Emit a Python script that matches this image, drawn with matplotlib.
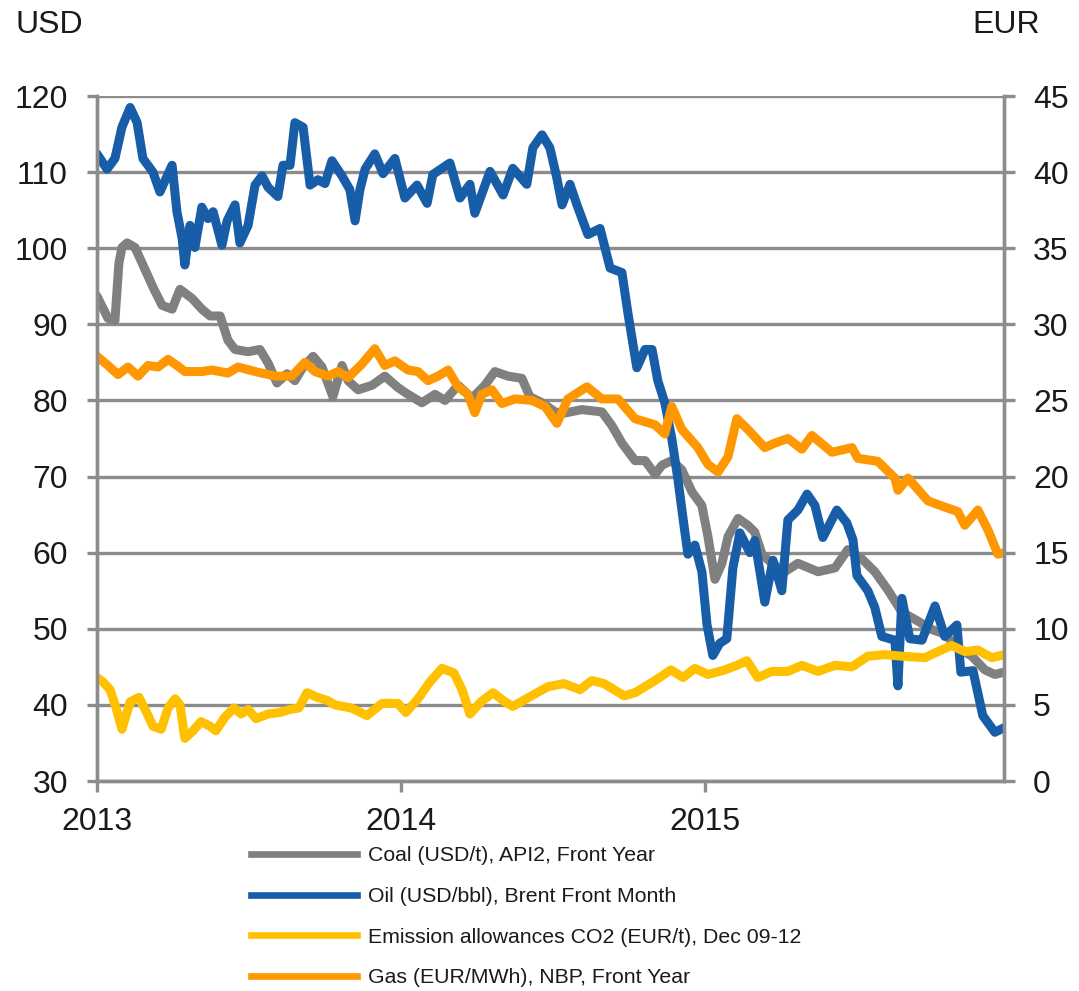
import matplotlib
matplotlib.use("Agg")
import matplotlib.pyplot as plt
from matplotlib.lines import Line2D

plt.rcParams["font.family"] = ["Liberation Sans", "DejaVu Sans"]

# ── Data (decimal years) ─────────────────────────────────────────────
oil_t = [2013.000, 2013.033, 2013.059, 2013.082, 2013.109, 2013.132, 2013.151, 2013.184,
         2013.207, 2013.224, 2013.247, 2013.263, 2013.280, 2013.289, 2013.306, 2013.322,
         2013.345, 2013.365, 2013.382, 2013.411, 2013.428, 2013.454, 2013.470, 2013.497,
         2013.520, 2013.543, 2013.563, 2013.595, 2013.612, 2013.635, 2013.651, 2013.678,
         2013.701, 2013.727, 2013.750, 2013.773, 2013.806, 2013.832, 2013.849, 2013.865,
         2013.882, 2013.914, 2013.941, 2013.980, 2014.013, 2014.053, 2014.086, 2014.105,
         2014.161, 2014.194, 2014.227, 2014.243, 2014.293, 2014.336, 2014.368, 2014.414,
         2014.434, 2014.464, 2014.490, 2014.513, 2014.530, 2014.556, 2014.579, 2014.615,
         2014.655, 2014.688, 2014.727, 2014.747, 2014.776, 2014.803, 2014.826, 2014.845,
         2014.868, 2014.891, 2014.911, 2014.928, 2014.944, 2014.967, 2014.990, 2015.007,
         2015.026, 2015.049, 2015.072, 2015.092, 2015.115, 2015.148, 2015.164, 2015.181,
         2015.197, 2015.224, 2015.253, 2015.273, 2015.306, 2015.336, 2015.362, 2015.388,
         2015.434, 2015.467, 2015.487, 2015.500, 2015.536, 2015.559, 2015.582, 2015.625,
         2015.635, 2015.648, 2015.674, 2015.714, 2015.757, 2015.789, 2015.829, 2015.842,
         2015.882, 2015.914, 2015.954, 2015.984]
oil_v = [112.4, 110.4, 111.8, 115.9, 118.5, 116.5, 111.8, 110.0,
         107.4, 108.9, 110.9, 104.8, 101.3, 97.8, 103.0, 100.1,
         105.4, 103.9, 104.8, 100.4, 103.6, 105.7, 100.7, 103.0,
         108.3, 109.5, 108.0, 106.8, 110.9, 110.9, 116.5, 115.9,
         108.3, 109.0, 108.5, 111.5, 109.5, 107.7, 103.6, 107.7,
         110.4, 112.4, 109.8, 111.8, 106.6, 108.3, 105.9, 109.7,
         111.2, 106.6, 108.4, 104.6, 110.1, 107.0, 110.5, 108.4,
         113.2, 114.9, 113.2, 109.2, 105.7, 108.4, 105.7, 101.8,
         102.6, 97.4, 96.8, 91.4, 84.3, 86.7, 86.7, 82.6,
         79.7, 75.0, 69.7, 64.5, 59.8, 61.0, 57.5, 50.5,
         46.5, 48.1, 48.7, 58.0, 62.6, 60.0, 61.6, 57.5,
         53.5, 59.0, 55.0, 64.3, 65.6, 67.7, 66.2, 62.0,
         65.6, 63.9, 61.7, 57.0, 55.0, 52.8, 49.0, 48.5,
         42.5, 54.0, 48.7, 48.5, 53.0, 49.0, 50.5, 44.3,
         44.5, 38.6, 36.4, 37.0]

coal_t = [2013.000, 2013.036, 2013.059, 2013.072, 2013.082, 2013.099, 2013.125, 2013.158,
          2013.184, 2013.214, 2013.247, 2013.273, 2013.313, 2013.345, 2013.372, 2013.405,
          2013.431, 2013.454, 2013.497, 2013.536, 2013.563, 2013.592, 2013.625, 2013.651,
          2013.678, 2013.711, 2013.740, 2013.776, 2013.806, 2013.826, 2013.859, 2013.905,
          2013.947, 2013.990, 2014.023, 2014.069, 2014.112, 2014.145, 2014.188, 2014.234,
          2014.276, 2014.309, 2014.352, 2014.398, 2014.424, 2014.464, 2014.507, 2014.533,
          2014.595, 2014.661, 2014.694, 2014.727, 2014.770, 2014.803, 2014.836, 2014.859,
          2014.891, 2014.924, 2014.957, 2014.990, 2015.010, 2015.033, 2015.056, 2015.076,
          2015.109, 2015.141, 2015.164, 2015.188, 2015.220, 2015.263, 2015.306, 2015.372,
          2015.428, 2015.470, 2015.516, 2015.559, 2015.602, 2015.648, 2015.701, 2015.747,
          2015.789, 2015.832, 2015.878, 2015.921, 2015.954, 2015.984]
coal_v = [93.7, 90.8, 90.5, 98.0, 100.1, 100.7, 100.1, 97.2,
          94.9, 92.5, 92.0, 94.6, 93.4, 92.0, 91.1, 91.1,
          87.9, 86.7, 86.4, 86.7, 84.9, 82.3, 83.5, 82.6,
          84.4, 85.8, 84.4, 80.5, 84.6, 82.6, 81.4, 82.0,
          83.2, 81.7, 80.8, 79.7, 80.8, 80.0, 82.0, 80.3,
          82.0, 83.8, 83.2, 82.9, 80.5, 79.7, 78.5, 78.3,
          78.8, 78.5, 76.7, 74.4, 72.1, 72.1, 70.3, 71.5,
          72.1, 70.9, 68.0, 66.2, 62.1, 56.5, 58.6, 62.1,
          64.5, 63.6, 62.7, 59.8, 58.6, 57.5, 58.6, 57.5,
          58.0, 60.4, 59.2, 57.5, 55.1, 52.2, 51.0, 49.9,
          49.3, 47.5, 46.4, 44.6, 44.0, 44.3]

gas_t = [2013.000, 2013.036, 2013.069, 2013.102, 2013.135, 2013.168, 2013.201, 2013.234,
         2013.263, 2013.289, 2013.345, 2013.378, 2013.431, 2013.464, 2013.520, 2013.586,
         2013.641, 2013.684, 2013.717, 2013.760, 2013.793, 2013.826, 2013.872, 2013.914,
         2013.947, 2013.980, 2014.023, 2014.056, 2014.089, 2014.122, 2014.155, 2014.188,
         2014.220, 2014.243, 2014.266, 2014.299, 2014.332, 2014.375, 2014.431, 2014.474,
         2014.513, 2014.549, 2014.612, 2014.661, 2014.714, 2014.770, 2014.836, 2014.868,
         2014.891, 2014.924, 2014.977, 2015.010, 2015.043, 2015.076, 2015.105, 2015.141,
         2015.197, 2015.230, 2015.273, 2015.319, 2015.352, 2015.418, 2015.484, 2015.503,
         2015.569, 2015.625, 2015.635, 2015.668, 2015.734, 2015.789, 2015.832, 2015.855,
         2015.898, 2015.931, 2015.964, 2015.984]
gas_v = [27.9, 27.3, 26.7, 27.2, 26.6, 27.3, 27.2, 27.7,
         27.3, 26.9, 26.9, 27.0, 26.8, 27.2, 26.9, 26.6,
         26.6, 27.5, 26.9, 26.6, 26.9, 26.5, 27.4, 28.4,
         27.3, 27.6, 27.0, 26.9, 26.3, 26.6, 27.0, 25.9,
         25.4, 24.2, 25.4, 25.7, 24.8, 25.1, 25.0, 24.6,
         23.5, 25.1, 25.9, 25.1, 25.1, 23.8, 23.4, 22.8,
         24.6, 23.1, 21.9, 20.8, 20.3, 21.3, 23.8, 23.1,
         21.9, 22.2, 22.5, 21.8, 22.7, 21.6, 21.9, 21.2,
         21.0, 19.9, 19.1, 19.9, 18.4, 18.0, 17.7, 16.8,
         17.8, 16.5, 14.9, 15.0]

co2_t = [2013.000, 2013.020, 2013.043, 2013.063, 2013.082, 2013.109, 2013.138, 2013.161,
         2013.184, 2013.211, 2013.234, 2013.257, 2013.273, 2013.289, 2013.316, 2013.342,
         2013.372, 2013.391, 2013.421, 2013.451, 2013.474, 2013.497, 2013.523, 2013.563,
         2013.602, 2013.635, 2013.664, 2013.691, 2013.724, 2013.757, 2013.783, 2013.836,
         2013.888, 2013.938, 2013.990, 2014.016, 2014.056, 2014.095, 2014.135, 2014.174,
         2014.201, 2014.227, 2014.263, 2014.303, 2014.342, 2014.368, 2014.421, 2014.484,
         2014.536, 2014.589, 2014.628, 2014.668, 2014.701, 2014.734, 2014.770, 2014.836,
         2014.888, 2014.928, 2014.967, 2015.010, 2015.066, 2015.105, 2015.138, 2015.174,
         2015.220, 2015.273, 2015.319, 2015.372, 2015.428, 2015.484, 2015.536, 2015.592,
         2015.648, 2015.724, 2015.766, 2015.812, 2015.855, 2015.898, 2015.944, 2015.984]
co2_v = [6.8, 6.5, 6.0, 4.8, 3.4, 5.2, 5.5, 4.6,
         3.6, 3.4, 4.8, 5.4, 5.0, 2.8, 3.3, 3.9,
         3.6, 3.3, 4.2, 4.8, 4.4, 4.7, 4.1, 4.4,
         4.5, 4.7, 4.8, 5.8, 5.5, 5.3, 5.0, 4.8,
         4.3, 5.1, 5.1, 4.5, 5.4, 6.5, 7.4, 7.1,
         6.0, 4.4, 5.2, 5.8, 5.2, 4.9, 5.5, 6.2,
         6.4, 6.0, 6.6, 6.4, 6.0, 5.6, 5.8, 6.6,
         7.3, 6.8, 7.4, 7.0, 7.3, 7.6, 7.9, 6.8,
         7.2, 7.2, 7.6, 7.2, 7.6, 7.5, 8.2, 8.3,
         8.2, 8.1, 8.5, 8.9, 8.5, 8.6, 8.1, 8.3]

labels = ["Coal (USD/t), API2, Front Year",
          "Oil (USD/bbl), Brent Front Month",
          "Emission allowances CO2 (EUR/t), Dec 09-12",
          "Gas (EUR/MWh), NBP, Front Year"]
year_ticks = [2013, 2014, 2015]

# ── Styling ──────────────────────────────────────────────────────────
C_COAL, C_OIL, C_CO2, C_GAS = "#808080", "#175DA8", "#FFC000", "#FF9800"
GRID = "#8C8C8C"
TXT = "#1A1A1A"
LW = 6.5

fig = plt.figure(figsize=(10.79, 9.91), dpi=100)
ax = fig.add_axes([0.0899, 0.2119, 0.8406, 0.6912])
ax2 = ax.twinx()

line_kw = dict(lw=LW, solid_joinstyle="round", solid_capstyle="round")
ax.plot(coal_t, coal_v, color=C_COAL, **line_kw)
ax.plot(oil_t, oil_v, color=C_OIL, **line_kw)
ax2.plot(co2_t, co2_v, color=C_CO2, **line_kw)
ax2.plot(gas_t, gas_v, color=C_GAS, **line_kw)

ax.set_xlim(2013.0, 2015.984)
ax.set_ylim(30, 120)
ax2.set_ylim(0, 45)
ax.set_yticks(range(30, 121, 10))
ax2.set_yticks(range(0, 46, 5))
ax.set_xticks(year_ticks)
ax.set_xticklabels([str(y) for y in year_ticks])

ax.yaxis.grid(True, color=GRID, lw=2.4)
ax.set_axisbelow(True)

for a in (ax, ax2):
    for side in ("left", "right", "bottom"):
        a.spines[side].set_color(GRID)
        a.spines[side].set_linewidth(2.4)
    a.spines["top"].set_visible(False)

ax.tick_params(axis="y", length=7, width=2.4, color=GRID, pad=14, labelsize=23, labelcolor=TXT)
ax.tick_params(axis="x", length=8, width=2.4, color=GRID, pad=11, labelsize=23, labelcolor=TXT)
ax2.tick_params(axis="y", length=8, width=2.4, color=GRID, pad=13, labelsize=23, labelcolor=TXT)

fig.text(0.0148, 0.975, "USD", ha="left", va="center", fontsize=23, color=TXT)
fig.text(0.9639, 0.975, "EUR", ha="right", va="center", fontsize=23, color=TXT)

handles = [Line2D([], [], color=c, lw=4.8) for c in (C_COAL, C_OIL, C_CO2, C_GAS)]
fig.legend(handles, labels, loc="upper left", bbox_to_anchor=(0.2326, 0.146),
           frameon=False, fontsize=15.3, handlelength=5.0, handletextpad=0.5,
           labelspacing=1.02, borderpad=0, borderaxespad=0, labelcolor=TXT)

fig.savefig("out.png", dpi=100)
